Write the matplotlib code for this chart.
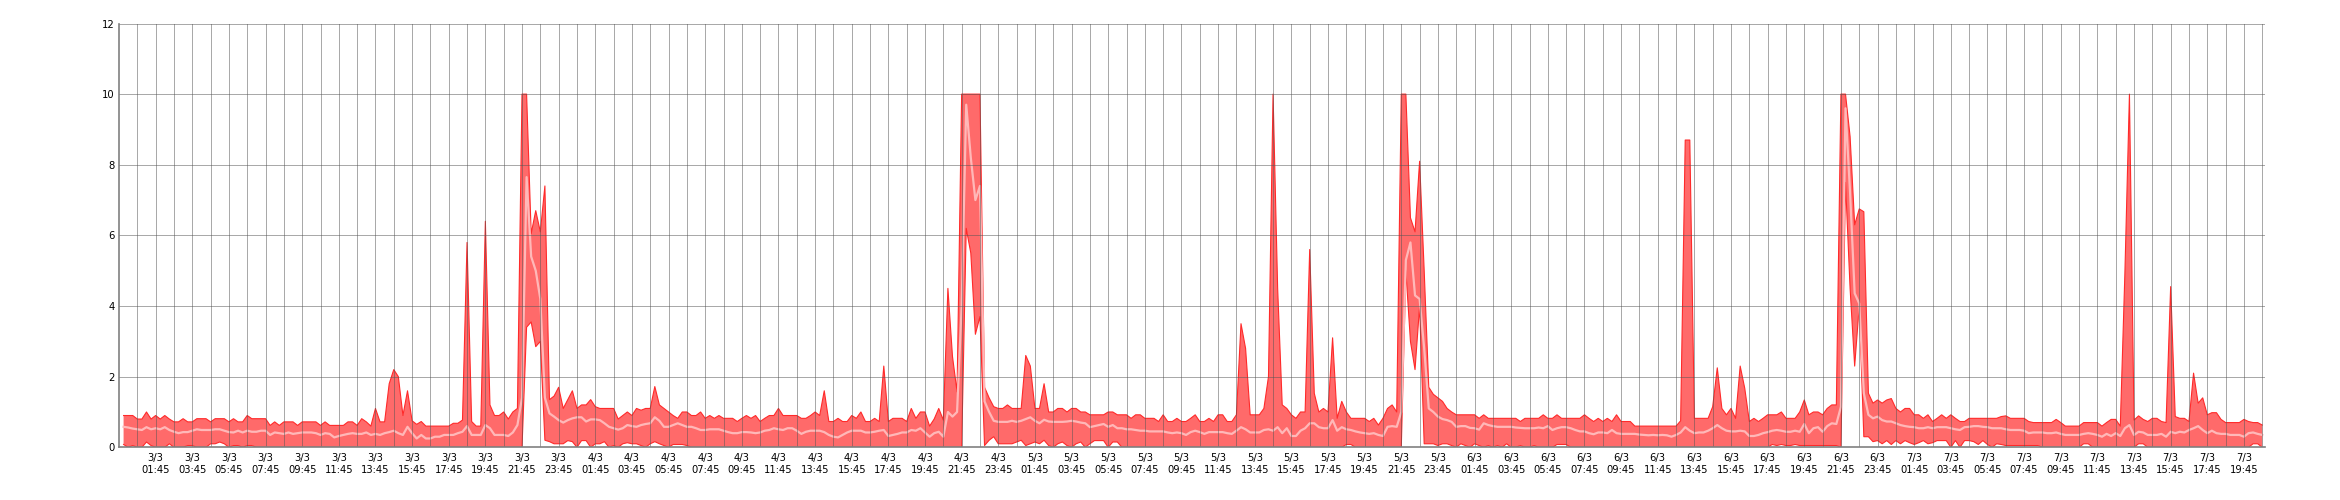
import numpy as np
import matplotlib
matplotlib.use("Agg")
import matplotlib.pyplot as plt

# 15-minute samples starting 3/3 00:00 (value index -> hours = i/4)
sample_minutes = 15

hi_vals = [
    0.9, 0.9, 0.9, 0.8, 0.8, 1.0, 0.8, 0.9, 0.8, 0.9, 0.8, 0.72,          # 0-11
    0.72, 0.81, 0.72, 0.72, 0.81, 0.81, 0.81, 0.72, 0.81, 0.81, 0.81, 0.72,  # 12-23
    0.81, 0.72, 0.72, 0.9, 0.81, 0.81, 0.81, 0.81, 0.62, 0.72, 0.62, 0.72,   # 24-35
    0.72, 0.72, 0.62, 0.72, 0.72, 0.72, 0.72, 0.62, 0.72, 0.62, 0.62, 0.62,  # 36-47
    0.62, 0.72, 0.72, 0.62, 0.81, 0.72, 0.6, 1.1, 0.72, 0.72, 1.8, 2.2,      # 48-59
    2.0, 0.9, 1.6, 0.75, 0.65, 0.73, 0.6, 0.6, 0.6, 0.6, 0.6, 0.6,           # 60-71
    0.68, 0.68, 0.77, 5.8, 0.73, 0.6, 0.6, 6.4, 1.2, 0.9, 0.9, 1.0,          # 72-83
    0.8, 1.0, 1.1, 10, 10, 6.05, 6.7, 6.1, 7.4, 1.35, 1.45, 1.7,             # 84-95
    1.1, 1.35, 1.6, 1.1, 1.2, 1.2, 1.35, 1.15, 1.1, 1.1, 1.1, 1.1,           # 96-107
    0.8, 0.9, 1.0, 0.9, 1.1, 1.05, 1.1, 1.1, 1.72, 1.2, 1.1, 1.0,            # 108-119
    0.9, 0.82, 1.0, 1.0, 0.9, 0.9, 1.0, 0.82, 0.9, 0.82, 0.9, 0.82,          # 120-131
    0.82, 0.82, 0.73, 0.82, 0.9, 0.82, 0.9, 0.73, 0.82, 0.9, 0.9, 1.1,       # 132-143
    0.9, 0.9, 0.9, 0.9, 0.82, 0.82, 0.9, 1.0, 0.9, 1.6, 0.73, 0.73,          # 144-155
    0.82, 0.73, 0.73, 0.9, 0.82, 1.0, 0.73, 0.73, 0.82, 0.73, 2.3, 0.73,     # 156-167
    0.82, 0.82, 0.82, 0.73, 1.1, 0.82, 1.0, 1.0, 0.6, 0.8, 1.1, 0.77,        # 168-179
    4.5, 2.57, 1.57, 10, 10, 10, 10, 10, 1.7, 1.4, 1.15, 1.1,                # 180-191
    1.1, 1.2, 1.1, 1.1, 1.1, 2.6, 2.3, 1.1, 1.1, 1.8, 1.0, 1.0,              # 192-203
    1.1, 1.1, 1.0, 1.1, 1.1, 1.0, 1.0, 0.92, 0.92, 0.92, 0.92, 1.0,          # 204-215
    1.0, 0.92, 0.92, 0.92, 0.82, 0.92, 0.92, 0.82, 0.82, 0.82, 0.73, 0.92,   # 216-227
    0.73, 0.73, 0.82, 0.73, 0.73, 0.82, 0.92, 0.73, 0.73, 0.82, 0.73, 0.92,  # 228-239
    0.92, 0.73, 0.73, 0.92, 3.5, 2.8, 0.92, 0.92, 0.92, 1.1, 2.0, 10,        # 240-251
    4.5, 1.2, 1.1, 0.92, 0.82, 1.0, 1.0, 5.6, 1.53, 1.0, 1.1, 1.0,           # 252-263
    3.1, 0.82, 1.3, 1.0, 0.82, 0.82, 0.82, 0.82, 0.73, 0.82, 0.63, 0.82,     # 264-275
    1.1, 1.2, 1.0, 10, 10, 6.5, 6.1, 8.1, 5.0, 1.7, 1.5, 1.4,                # 276-287
    1.3, 1.1, 1.0, 0.92, 0.92, 0.92, 0.92, 0.92, 0.82, 0.92, 0.82, 0.82,     # 288-299
    0.82, 0.82, 0.82, 0.82, 0.82, 0.73, 0.82, 0.82, 0.82, 0.82, 0.92, 0.82,  # 300-311
    0.82, 0.92, 0.82, 0.82, 0.82, 0.82, 0.82, 0.92, 0.82, 0.73, 0.82, 0.73,  # 312-323
    0.82, 0.73, 0.92, 0.73, 0.73, 0.73, 0.6, 0.6, 0.6, 0.6, 0.6, 0.6,        # 324-335
    0.6, 0.6, 0.6, 0.6, 0.75, 8.7, 8.7, 0.82, 0.82, 0.82, 0.82, 1.15,        # 336-347
    2.25, 1.1, 0.92, 1.1, 0.82, 2.3, 1.67, 0.73, 0.82, 0.73, 0.82, 0.92,     # 348-359
    0.92, 0.92, 1.0, 0.82, 0.82, 0.82, 1.0, 1.34, 0.92, 1.0, 1.0, 0.92,      # 360-371
    1.1, 1.2, 1.2, 10, 10, 8.8, 6.3, 6.75, 6.67, 1.53, 1.25, 1.34,           # 372-383
    1.25, 1.34, 1.38, 1.1, 1.0, 1.1, 1.1, 0.92, 0.92, 0.82, 0.92, 0.73,      # 384-395
    0.82, 0.92, 0.82, 0.92, 0.82, 0.73, 0.73, 0.82, 0.82, 0.82, 0.82, 0.82,  # 396-407
    0.82, 0.82, 0.87, 0.89, 0.82, 0.82, 0.82, 0.82, 0.73, 0.7, 0.7, 0.7,     # 408-419
    0.7, 0.7, 0.79, 0.7, 0.6, 0.6, 0.6, 0.6, 0.7, 0.7, 0.7, 0.7,             # 420-431
    0.6, 0.7, 0.79, 0.79, 0.6, 4.9, 10, 0.77, 0.89, 0.79, 0.73, 0.82,        # 432-443
    0.82, 0.73, 0.7, 4.55, 0.87, 0.82, 0.82, 0.73, 2.1, 1.25, 1.4, 0.92,     # 444-455
    0.98, 0.98, 0.79, 0.7, 0.7, 0.7, 0.7, 0.79, 0.73, 0.7, 0.7, 0.63,        # 456-467
]

mean_vals = [
    0.58, 0.56, 0.53, 0.51, 0.49, 0.57, 0.51, 0.54, 0.51, 0.57, 0.49, 0.44,  # 0-11
    0.4, 0.43, 0.43, 0.47, 0.51, 0.49, 0.49, 0.49, 0.51, 0.51, 0.47, 0.43,   # 12-23
    0.42, 0.47, 0.42, 0.47, 0.44, 0.44, 0.47, 0.47, 0.35, 0.42, 0.4, 0.38,   # 24-35
    0.42, 0.38, 0.4, 0.42, 0.42, 0.42, 0.4, 0.35, 0.4, 0.38, 0.28, 0.32,     # 36-47
    0.35, 0.38, 0.4, 0.38, 0.38, 0.42, 0.35, 0.38, 0.35, 0.4, 0.43, 0.47,    # 48-59
    0.4, 0.35, 0.58, 0.4, 0.25, 0.35, 0.25, 0.25, 0.3, 0.3, 0.35, 0.35,      # 60-71
    0.35, 0.4, 0.44, 0.6, 0.35, 0.35, 0.35, 0.63, 0.54, 0.35, 0.35, 0.35,    # 72-83
    0.32, 0.42, 0.63, 1.4, 7.65, 5.4, 5.0, 4.2, 1.4, 0.96, 0.87, 0.77,       # 84-95
    0.7, 0.77, 0.82, 0.85, 0.85, 0.73, 0.79, 0.79, 0.77, 0.68, 0.58, 0.54,   # 96-107
    0.5, 0.54, 0.63, 0.6, 0.58, 0.63, 0.66, 0.68, 0.85, 0.75, 0.58, 0.58,    # 108-119
    0.63, 0.68, 0.63, 0.58, 0.58, 0.54, 0.49, 0.49, 0.51, 0.51, 0.51, 0.47,  # 120-131
    0.43, 0.4, 0.4, 0.43, 0.43, 0.42, 0.4, 0.42, 0.47, 0.49, 0.54, 0.51,     # 132-143
    0.49, 0.54, 0.54, 0.47, 0.38, 0.44, 0.47, 0.47, 0.47, 0.43, 0.35, 0.3,   # 144-155
    0.28, 0.35, 0.42, 0.47, 0.47, 0.47, 0.42, 0.42, 0.44, 0.47, 0.49, 0.32,  # 156-167
    0.35, 0.38, 0.42, 0.42, 0.49, 0.47, 0.54, 0.42, 0.3, 0.4, 0.44, 0.3,     # 168-179
    1.0, 0.87, 1.0, 4.0, 9.7, 8.2, 7.0, 7.4, 1.3, 1.0, 0.75, 0.72,           # 180-191
    0.72, 0.72, 0.75, 0.72, 0.75, 0.8, 0.85, 0.75, 0.68, 0.78, 0.73, 0.72,   # 192-203
    0.72, 0.72, 0.73, 0.75, 0.73, 0.7, 0.68, 0.57, 0.6, 0.63, 0.66, 0.58,    # 204-215
    0.63, 0.54, 0.54, 0.51, 0.51, 0.49, 0.47, 0.47, 0.45, 0.45, 0.45, 0.45,  # 216-227
    0.42, 0.4, 0.42, 0.4, 0.35, 0.43, 0.47, 0.43, 0.38, 0.43, 0.43, 0.43,    # 228-239
    0.43, 0.4, 0.38, 0.47, 0.57, 0.51, 0.42, 0.42, 0.42, 0.49, 0.51, 0.47,   # 240-251
    0.57, 0.4, 0.54, 0.32, 0.32, 0.47, 0.54, 0.68, 0.68, 0.57, 0.54, 0.54,   # 252-263
    0.77, 0.47, 0.57, 0.51, 0.49, 0.45, 0.42, 0.4, 0.38, 0.4, 0.35, 0.32,    # 264-275
    0.58, 0.6, 0.58, 1.0, 5.3, 5.8, 4.3, 4.2, 2.8, 1.1, 1.0, 0.87,           # 276-287
    0.8, 0.77, 0.72, 0.58, 0.6, 0.6, 0.55, 0.54, 0.5, 0.68, 0.63, 0.6,       # 288-299
    0.58, 0.58, 0.58, 0.58, 0.56, 0.55, 0.54, 0.54, 0.54, 0.56, 0.54, 0.6,   # 300-311
    0.49, 0.54, 0.57, 0.57, 0.54, 0.49, 0.45, 0.45, 0.4, 0.37, 0.42, 0.42,   # 312-323
    0.4, 0.49, 0.4, 0.38, 0.38, 0.38, 0.38, 0.36, 0.35, 0.34, 0.35, 0.34,    # 324-335
    0.35, 0.34, 0.3, 0.35, 0.42, 0.57, 0.47, 0.4, 0.42, 0.42, 0.47, 0.54,    # 336-347
    0.63, 0.54, 0.47, 0.45, 0.45, 0.47, 0.45, 0.32, 0.32, 0.35, 0.4, 0.43,   # 348-359
    0.47, 0.49, 0.47, 0.44, 0.44, 0.47, 0.44, 0.66, 0.4, 0.54, 0.57, 0.44,   # 360-371
    0.6, 0.68, 0.66, 1.15, 9.6, 7.2, 4.36, 4.07, 1.53, 0.92, 0.82, 0.87,     # 372-383
    0.77, 0.73, 0.73, 0.68, 0.63, 0.6, 0.58, 0.57, 0.54, 0.54, 0.57, 0.54,   # 384-395
    0.57, 0.57, 0.57, 0.54, 0.51, 0.49, 0.57, 0.58, 0.6, 0.6, 0.58, 0.57,    # 396-407
    0.54, 0.54, 0.54, 0.51, 0.49, 0.49, 0.49, 0.47, 0.4, 0.42, 0.42, 0.42,   # 408-419
    0.4, 0.4, 0.42, 0.38, 0.35, 0.35, 0.35, 0.35, 0.38, 0.4, 0.38, 0.35,     # 420-431
    0.3, 0.38, 0.32, 0.4, 0.32, 0.54, 0.63, 0.35, 0.44, 0.42, 0.35, 0.35,    # 432-443
    0.35, 0.38, 0.3, 0.44, 0.4, 0.44, 0.42, 0.49, 0.54, 0.6, 0.49, 0.4,      # 444-455
    0.47, 0.4, 0.38, 0.38, 0.35, 0.35, 0.35, 0.3, 0.4, 0.42, 0.38, 0.35,     # 456-467
]

lo_vals = [
    0.08, 0, 0.05, 0, 0, 0.15, 0.05, 0, 0, 0, 0.1, 0,                       # 0-11
    0, 0, 0.05, 0.05, 0, 0, 0, 0.1, 0.1, 0.15, 0.1, 0,                       # 12-23
    0.05, 0.05, 0, 0.05, 0.05, 0, 0, 0, 0, 0, 0, 0,                          # 24-35
    0, 0, 0, 0, 0, 0, 0, 0, 0, 0, 0, 0,                                      # 36-47
    0, 0, 0, 0, 0, 0, 0, 0, 0, 0, 0, 0,                                      # 48-59
    0, 0, 0, 0, 0, 0, 0, 0, 0, 0, 0, 0,                                      # 60-71
    0, 0, 0, 0, 0, 0, 0, 0, 0, 0, 0, 0,                                      # 72-83
    0, 0, 0, 0, 3.4, 3.55, 2.85, 3.0, 0.2, 0.16, 0.1, 0.1,                   # 84-95
    0.1, 0.19, 0.16, 0, 0.19, 0.19, 0, 0.1, 0.1, 0.16, 0, 0.05,              # 96-107
    0, 0.1, 0.13, 0.1, 0.1, 0.05, 0, 0.1, 0.16, 0.1, 0.05, 0,                # 108-119
    0.08, 0.08, 0.08, 0.05, 0, 0, 0, 0, 0, 0, 0, 0,                          # 120-131
    0, 0, 0, 0, 0, 0, 0, 0, 0, 0, 0, 0,                                      # 132-143
    0, 0, 0, 0, 0, 0, 0, 0, 0, 0, 0, 0,                                      # 144-155
    0, 0, 0, 0, 0, 0, 0, 0, 0, 0, 0, 0,                                      # 156-167
    0, 0, 0, 0, 0, 0, 0, 0, 0, 0, 0, 0,                                      # 168-179
    0, 0, 0, 0, 6.2, 5.5, 3.2, 3.7, 0.05, 0.2, 0.3, 0.1,                     # 180-191
    0.1, 0.1, 0.1, 0.15, 0.2, 0.05, 0.1, 0.15, 0.1, 0.2, 0.05, 0,            # 192-203
    0.1, 0.15, 0.05, 0, 0.1, 0.15, 0, 0.1, 0.19, 0.19, 0.19, 0,              # 204-215
    0.15, 0.15, 0, 0, 0, 0, 0, 0, 0, 0, 0, 0,                                # 216-227
    0, 0, 0, 0, 0, 0, 0, 0, 0, 0, 0, 0,                                      # 228-239
    0, 0, 0, 0, 0, 0, 0, 0, 0, 0, 0, 0,                                      # 240-251
    0, 0, 0, 0, 0, 0, 0, 0, 0, 0, 0, 0,                                      # 252-263
    0, 0, 0, 0.08, 0.08, 0, 0, 0, 0, 0, 0, 0,                                # 264-275
    0, 0, 0, 0, 5.0, 3.0, 2.2, 4.0, 0.1, 0.1, 0.1, 0.05,                     # 276-287
    0.1, 0.1, 0.05, 0, 0.1, 0.05, 0, 0.1, 0.05, 0, 0.05, 0,                  # 288-299
    0.05, 0, 0.1, 0, 0, 0.05, 0, 0, 0.05, 0, 0, 0,                           # 300-311
    0, 0.08, 0.08, 0.08, 0, 0, 0, 0, 0, 0, 0, 0,                             # 312-323
    0, 0, 0, 0, 0, 0, 0, 0, 0, 0, 0, 0,                                      # 324-335
    0, 0, 0, 0, 0, 0, 0, 0, 0, 0, 0, 0,                                      # 336-347
    0, 0, 0, 0, 0, 0, 0, 0, 0, 0, 0, 0,                                      # 348-359
    0.08, 0.05, 0.08, 0.05, 0.05, 0.08, 0.05, 0.05, 0.05, 0.05, 0.05, 0.05,  # 360-371
    0.05, 0.05, 0.05, 0, 7.5, 4.5, 2.3, 4.0, 0.3, 0.3, 0.16, 0.19,           # 372-383
    0.1, 0.19, 0.08, 0.19, 0.1, 0.19, 0.13, 0.08, 0.13, 0.19, 0.1, 0.13,     # 384-395
    0.19, 0.19, 0.19, 0, 0.19, 0, 0.19, 0.19, 0.16, 0.08, 0.19, 0.08,        # 396-407
    0, 0.1, 0.08, 0.05, 0.05, 0.05, 0.05, 0.05, 0.05, 0.05, 0.05, 0,         # 408-419
    0, 0, 0, 0, 0, 0, 0, 0, 0.1, 0.1, 0, 0,                                  # 420-431
    0, 0, 0, 0, 0, 0, 0, 0, 0.1, 0.1, 0, 0,                                  # 432-443
    0, 0, 0, 0, 0, 0, 0, 0, 0, 0, 0, 0,                                      # 444-455
    0, 0, 0, 0, 0, 0, 0, 0, 0, 0.1, 0.1, 0,                                  # 456-467
]

# x tick labels every two hours (at hh:45)
tick_hours = [1.75 + 2 * k for k in range(58)]
day_names = ["3/3", "4/3", "5/3", "6/3", "7/3"]
tick_labels = []
for h in tick_hours:
    d = int(h // 24)
    hh = int(h % 24)
    mm = int(round((h - int(h)) * 60))
    tick_labels.append(f"{day_names[d]}\n{hh:02d}:{mm:02d}")

y_ticks = [0, 2, 4, 6, 8, 10, 12]

n = min(len(hi_vals), len(mean_vals), len(lo_vals))
hi = np.array(hi_vals[:n], dtype=float)
mid = np.array(mean_vals[:n], dtype=float)
lo = np.array(lo_vals[:n], dtype=float)
t = np.arange(n) * sample_minutes / 60.0

fig = plt.figure(figsize=(23.4, 5.0), dpi=100)
ax = fig.add_axes([119 / 2340, 1 - 447.3 / 500, (2265 - 119) / 2340, (447.3 - 23.5) / 500])

ax.fill_between(t, lo, hi, facecolor="#ff6a6a", edgecolor="none", zorder=2)
ax.plot(t, hi, color="#ff2a2a", lw=0.8, zorder=3)
ax.plot(t, lo, color="#ff2a2a", lw=0.8, zorder=3)
ax.plot(t, mid, color="#ffb8b8", lw=1.6, zorder=4)

ax.set_xlim(-0.25, 116.9)
ax.set_ylim(0, 12)

# grid (drawn on top, dotted)
grid_kw = dict(color="#555555", lw=0.72, linestyle=(0, (1, 1)), zorder=5)
for gx in np.arange(0.75, 117, 1.0):
    ax.axvline(gx, **grid_kw)
for gy in y_ticks[1:]:
    ax.axhline(gy, **grid_kw)

ax.set_xticks(tick_hours)
ax.set_xticklabels(tick_labels, fontsize=7.2, color="#000000", linespacing=1.25)
ax.set_yticks(y_ticks)
ax.set_yticklabels([str(v) for v in y_ticks], fontsize=7.2, color="#000000")
ax.tick_params(axis="both", length=0)
ax.tick_params(axis="x", pad=4)
ax.tick_params(axis="y", pad=3)

for s in ["top", "right"]:
    ax.spines[s].set_visible(False)
for s in ["left", "bottom"]:
    ax.spines[s].set_color("#808080")
    ax.spines[s].set_linewidth(1.2)
    ax.spines[s].set_zorder(6)

fig.savefig("out.png", dpi=100)
